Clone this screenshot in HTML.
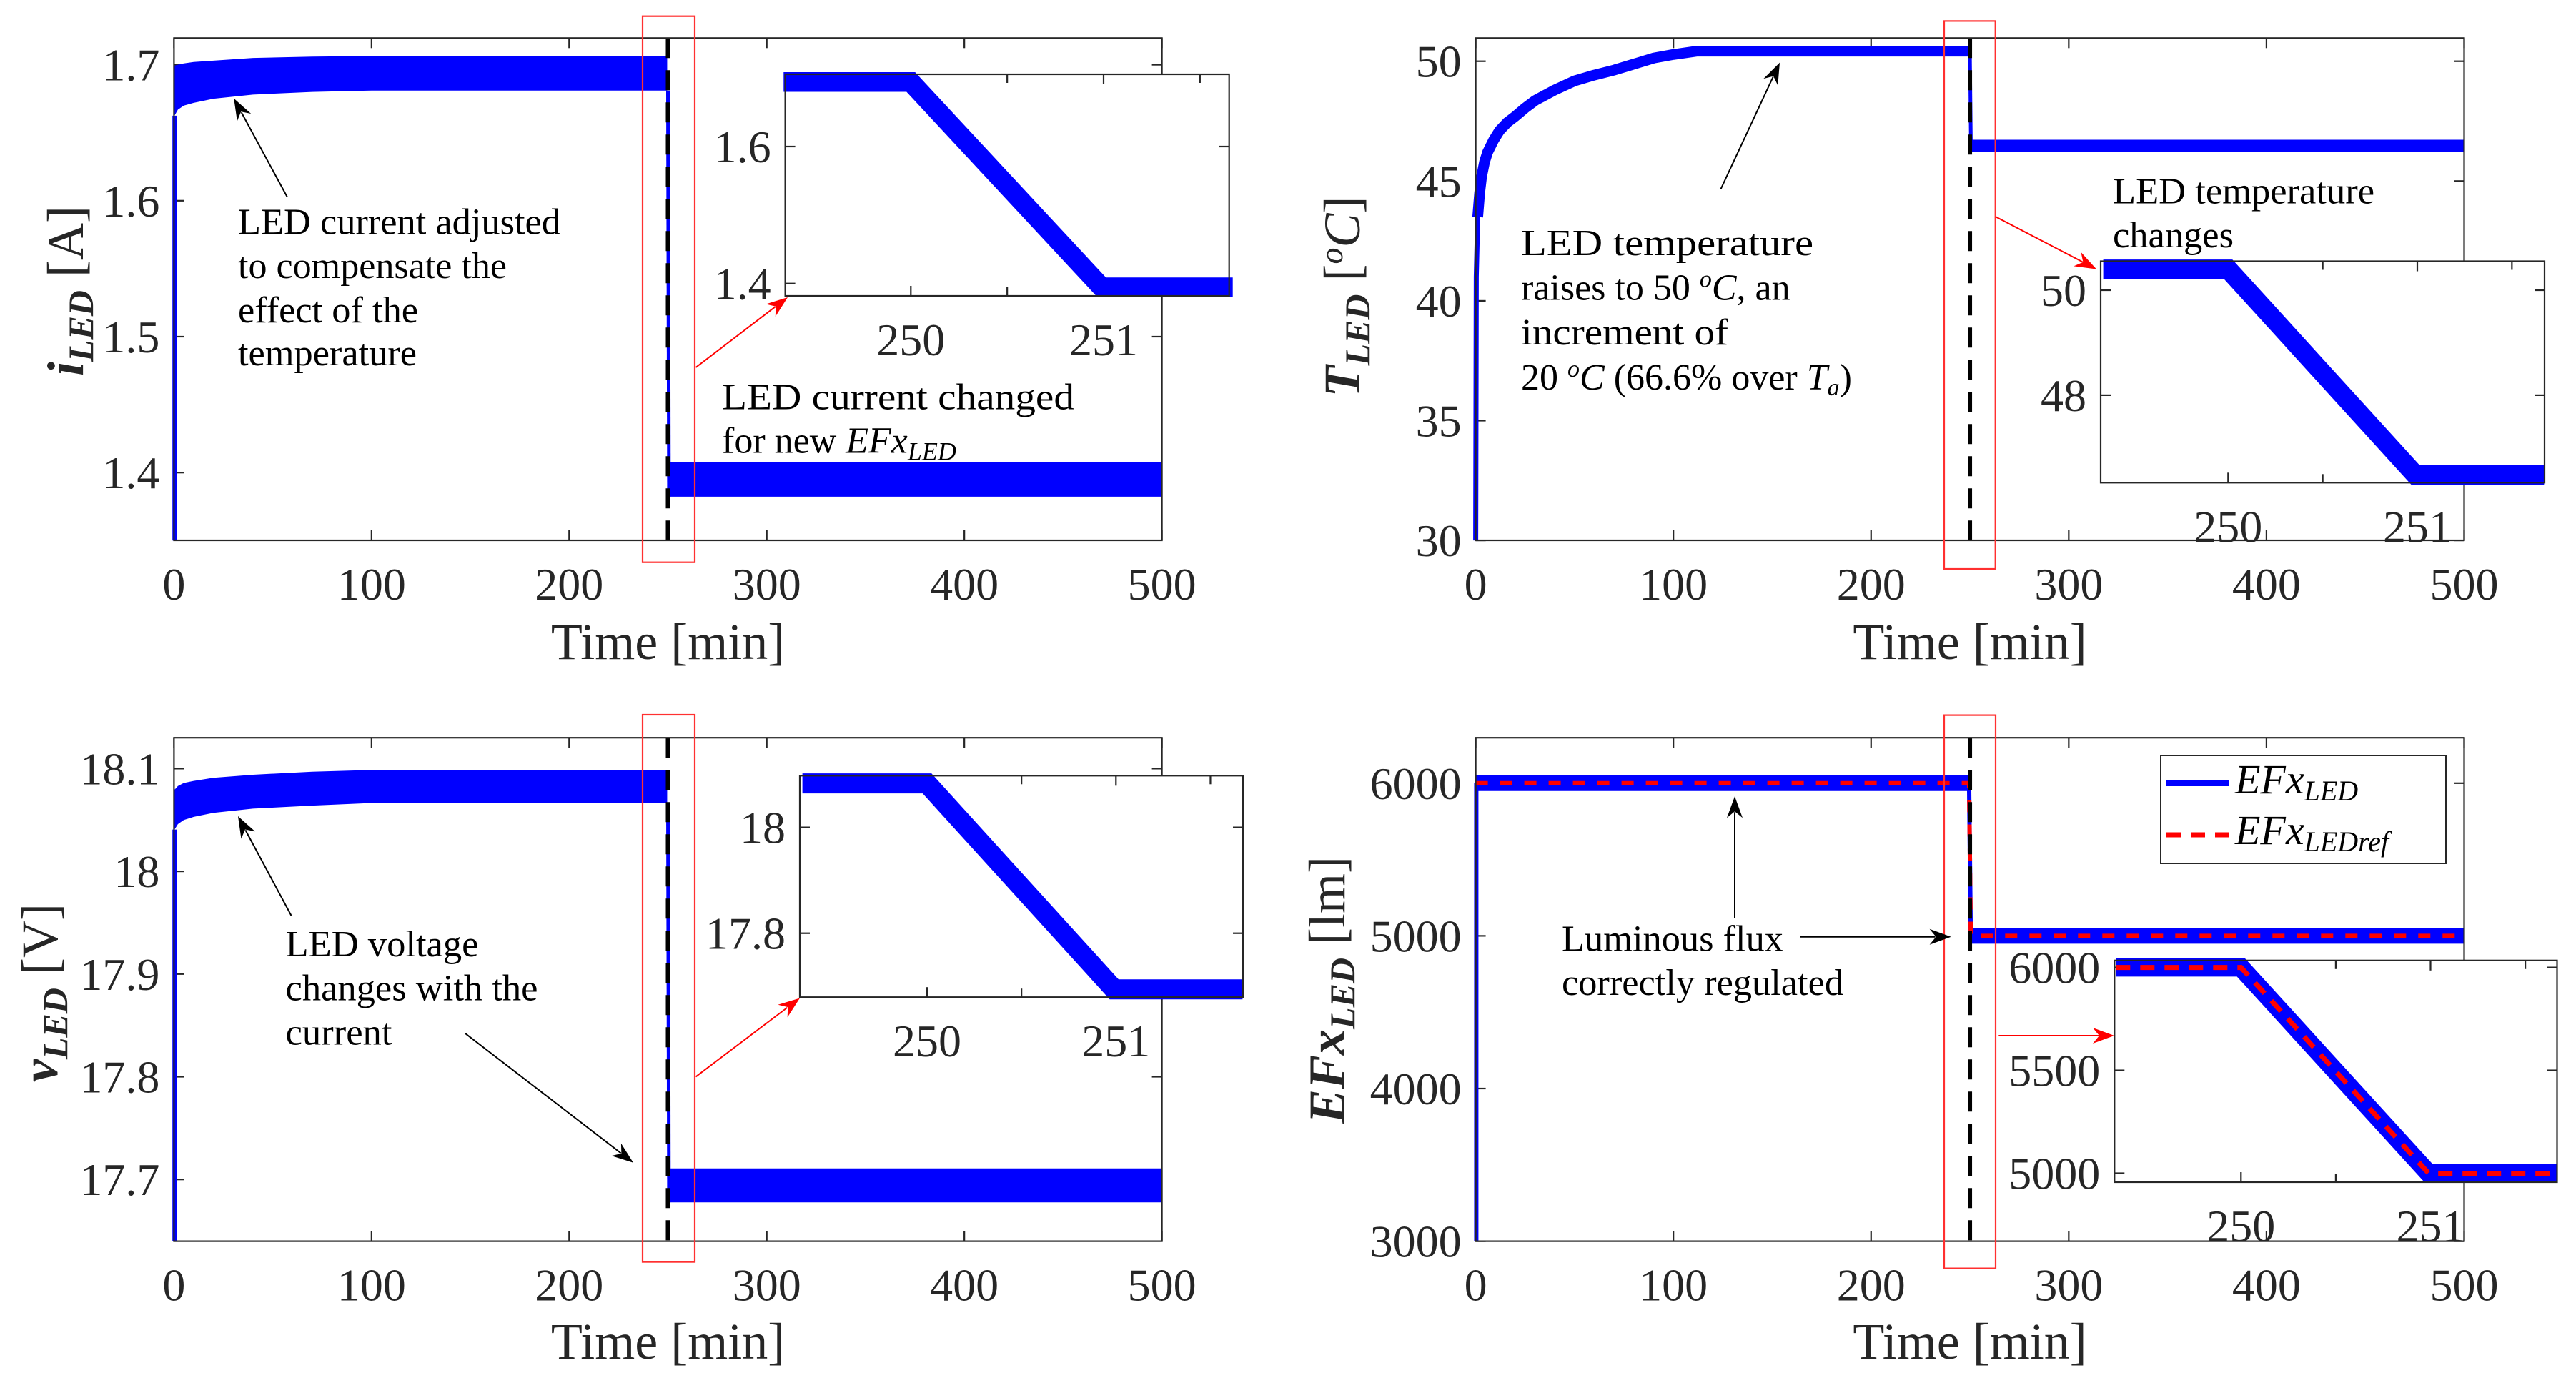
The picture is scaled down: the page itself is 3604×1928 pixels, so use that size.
<!DOCTYPE html>
<html><head><meta charset="utf-8"><title>LED regulation results</title>
<style>
html,body{margin:0;padding:0;background:#fff;}
svg{display:block;}
svg text{font-family:"Liberation Serif","Times New Roman",serif;}
</style></head>
<body>
<svg id="chart" xmlns="http://www.w3.org/2000/svg" width="3604" height="1928" viewBox="0 0 3604 1928" font-family="Liberation Serif, Times New Roman, serif">
<rect x="0" y="0" width="3604" height="1928" fill="#fff"/>
<g id="layer-main" font-family="Liberation Serif, serif"></g>
<g id="layer-annot" fill="#000" font-size="52" font-family="Liberation Serif, serif">
  <text x="333" y="327.6" textLength="451" lengthAdjust="spacingAndGlyphs">LED current adjusted</text>
  <text x="333" y="388.8" textLength="376" lengthAdjust="spacingAndGlyphs">to compensate the</text>
  <text x="333" y="451" textLength="252" lengthAdjust="spacingAndGlyphs">effect of the</text>
  <text x="333" y="511" textLength="250" lengthAdjust="spacingAndGlyphs">temperature</text>
  <text x="1010" y="572.5" textLength="493" lengthAdjust="spacingAndGlyphs">LED current changed</text>
  <text x="1010" y="633.7">for new <tspan font-style="italic">EFx</tspan><tspan font-style="italic" font-size="36" dy="10">LED</tspan></text>
  <text x="2128" y="357" textLength="409" lengthAdjust="spacingAndGlyphs">LED temperature</text>
  <text x="2128" y="419.4">raises to 50 <tspan font-style="italic" font-size="34" dy="-18">o</tspan><tspan font-style="italic" dy="18">C</tspan>, an</text>
  <text x="2128" y="481.9" textLength="290" lengthAdjust="spacingAndGlyphs">increment of</text>
  <text x="2128" y="545">20 <tspan font-style="italic" font-size="34" dy="-18">o</tspan><tspan font-style="italic" dy="18">C</tspan> (66.6% over <tspan font-style="italic">T</tspan><tspan font-style="italic" font-size="34" dy="8">a</tspan><tspan dy="-8">)</tspan></text>
  <text x="2956" y="284.7" textLength="366" lengthAdjust="spacingAndGlyphs">LED temperature</text>
  <text x="2956" y="346" textLength="169" lengthAdjust="spacingAndGlyphs">changes</text>
  <text x="399.5" y="1337.8" textLength="270" lengthAdjust="spacingAndGlyphs">LED voltage</text>
  <text x="399.5" y="1399.6" textLength="353" lengthAdjust="spacingAndGlyphs">changes with the</text>
  <text x="399.5" y="1461.3" textLength="149" lengthAdjust="spacingAndGlyphs">current</text>
  <text x="2185" y="1330.4" textLength="310" lengthAdjust="spacingAndGlyphs">Luminous flux</text>
  <text x="2185" y="1392" textLength="394" lengthAdjust="spacingAndGlyphs">correctly regulated</text>
</g>
<g id="layer-titles" fill="#262626" font-size="72" font-family="Liberation Serif, serif">
  <text transform="translate(116,407) rotate(-90)" text-anchor="middle"><tspan font-style="italic" font-weight="bold">i</tspan><tspan font-style="italic" font-weight="bold" font-size="50" dy="14">LED</tspan><tspan dy="-14"> [A]</tspan></text>
  <text transform="translate(1902,415) rotate(-90)" text-anchor="middle"><tspan font-style="italic" font-weight="bold">T</tspan><tspan font-style="italic" font-weight="bold" font-size="50" dy="14">LED</tspan><tspan dy="-14"> [</tspan><tspan font-style="italic" font-size="46" dy="-24">o</tspan><tspan font-style="italic" dy="24">C</tspan><tspan>]</tspan></text>
  <text transform="translate(80,1389) rotate(-90)" text-anchor="middle"><tspan font-style="italic" font-weight="bold">v</tspan><tspan font-style="italic" font-weight="bold" font-size="50" dy="14">LED</tspan><tspan dy="-14"> [V]</tspan></text>
  <text transform="translate(1881,1385) rotate(-90)" text-anchor="middle"><tspan font-style="italic" font-weight="bold">EFx</tspan><tspan font-style="italic" font-weight="bold" font-size="50" dy="14">LED</tspan><tspan dy="-14"> [lm]</tspan></text>
  <text x="934.5" y="922" text-anchor="middle">Time [min]</text>
  <text x="2756" y="922" text-anchor="middle">Time [min]</text>
  <text x="934.5" y="1901" text-anchor="middle">Time [min]</text>
  <text x="2756" y="1901" text-anchor="middle">Time [min]</text>
</g>
<g id="layer-inset" font-family="Liberation Serif, serif"></g>
<g id="layer-legend" font-family="Liberation Serif, serif">
  <rect x="3023" y="1057" width="399" height="151" fill="#fff" stroke="#262626" stroke-width="2"/>
  <line x1="3031" y1="1096" x2="3119" y2="1096" stroke="#0000ff" stroke-width="8"/>
  <text x="3127" y="1110" font-size="58" font-style="italic" fill="#000">EFx<tspan font-size="40" dy="10">LED</tspan></text>
  <line x1="3031" y1="1168" x2="3119" y2="1168" stroke="#ff0000" stroke-width="7" stroke-dasharray="20 14"/>
  <text x="3127" y="1181" font-size="58" font-style="italic" fill="#000">EFx<tspan font-size="40" dy="10">LEDref</tspan></text>
</g>
<g id="layer-arrows"></g>
</svg>
<script>
// ---------- data ----------
const xTicks=[0,100,200,300,400,500];
const insetXTicks=[250,251];
const insetMinorTicks=[250.5,251.5];
const bandT=[0.3,2,5,10,20,40,70,100,150,200,249.6];
const insetT=[249.34,250,250.99,251.67];
// current
const iTicks=[1.4,1.5,1.6,1.7];
const iUpper=[1.6994,1.700,1.701,1.702,1.703,1.705,1.706,1.7064,1.7064,1.7064,1.7064];
const iLower=[1.6625,1.667,1.670,1.672,1.675,1.678,1.680,1.681,1.681,1.681,1.681];
const iAfter=[1.3823,1.408];
const iStart=1.35;
const iInsetTicks=[1.4,1.6];
const iInset=[1.6941,1.6941,1.3945,1.3945];
// temperature
const tempTicks=[30,35,40,45,50];
const tempT=[0,0.3,1,2,3,4.5,6,9,12,16,20,25,30,40,50,60,70,80,90,100,112,249.6];
const tempV=[30,41,43.5,44.5,45.2,45.8,46.2,46.7,47.1,47.45,47.7,48.05,48.36,48.8,49.18,49.42,49.63,49.88,50.13,50.28,50.42,50.42];
const tempAfter=[46.47];
const tempInsetTicks=[48,50];
const tempInset=[50.40,50.40,46.48,46.48];
// voltage
const vTicks=[17.7,17.8,17.9,18,18.1];
const vUpper=[18.0794,18.083,18.086,18.088,18.091,18.094,18.097,18.0987,18.0987,18.0987,18.0987];
const vLower=[18.0407,18.046,18.050,18.053,18.057,18.061,18.064,18.0665,18.0665,18.0665,18.0665];
const vAfter=[17.6777,17.7107];
const vStart=17.64;
const vInsetTicks=[17.8,18];
const vInset=[18.083,18.083,17.694,17.694];
// luminous flux
const efTicks=[3000,4000,5000,6000];
const efT=[0,249.6,250.4,500];
const efV=[6000,6000,5000,5000];
const efRefV=[6000,6000,5000,5000];
const efStart=3000;
const efInsetTicks=[5000,5500,6000];
const efInset=[6000,6000,5000,5000];
const efRefInset=[6000,6000,5000,5000];
const eventT=250;

// ---------- helpers ----------
const NS='http://www.w3.org/2000/svg';
const L_MAIN=document.getElementById('layer-main');
const L_INSET=document.getElementById('layer-inset');
const L_ARROW=document.getElementById('layer-arrows');
function mk(tag,attrs,parent){const e=document.createElementNS(NS,tag);for(const k in attrs)e.setAttribute(k,attrs[k]);parent.appendChild(e);return e;}
function lin(d0,d1,r0,r1){return v=>r0+(v-d0)*(r1-r0)/(d1-d0);}
const AX='#262626';

function panel(g,P,yTicks,name,xt,minor,fillBg){
  const [x0,y0,x1,y1]=P.box;
  if(fillBg){
    const bg=mk('rect',{x:x0,y:y0,width:x1-x0,height:y1-y0,fill:'#fff'},g);
    
    
  }
  const tk=mk('g',{stroke:AX,'stroke-width':2.2},g);
  
  
  const labs=mk('g',{fill:AX,'font-size':64,'font-family':'Liberation Serif, serif'},g);
  
  
  xt.forEach(v=>{
    const x=P.x(v);
    mk('line',{x1:x,y1:y1,x2:x,y2:y1-14},tk);
    mk('line',{x1:x,y1:y0,x2:x,y2:y0+14},tk);
    const t=mk('text',{x:x,y:y1+83,'text-anchor':'middle'},labs);
    t.textContent=String(v);
    
    
  });
  minor.forEach(v=>{
    const x=P.x(v);
    mk('line',{x1:x,y1:y1,x2:x,y2:y1-12},tk);
    mk('line',{x1:x,y1:y0,x2:x,y2:y0+12},tk);
  });
  yTicks.forEach(v=>{
    const y=P.y(v);
    mk('line',{x1:x0,y1:y,x2:x0+14,y2:y},tk);
    mk('line',{x1:x1,y1:y,x2:x1-14,y2:y},tk);
    const t=mk('text',{x:x0-20,y:y+22,'text-anchor':'end'},labs);
    t.textContent=String(v);
    
    
  });
  return ()=>{
    const fr=mk('rect',{x:x0,y:y0,width:x1-x0,height:y1-y0,fill:'none',stroke:AX,'stroke-width':2.2},g);
    
    
  };
}
function pathFrom(P,ts,vs){return ts.map((t,i)=>(i?'L':'M')+P.x(t).toFixed(1)+' '+P.y(vs[i]).toFixed(1)).join(' ');}
function bandPath(P,ts,up,lo){
  let d=ts.map((t,i)=>(i?'L':'M')+P.x(t).toFixed(1)+' '+P.y(up[i]).toFixed(1)).join(' ');
  for(let i=ts.length-1;i>=0;i--)d+=' L'+P.x(ts[i]).toFixed(1)+' '+P.y(lo[i]).toFixed(1);
  return d+' Z';
}
function arrow(x1,y1,x2,y2,color,name){
  const g=mk('g',{},L_ARROW);
  
  
  const a=Math.atan2(y2-y1,x2-x1),len=30,w=11;
  const bx=x2-len*Math.cos(a),by=y2-len*Math.sin(a);
  mk('line',{x1:x1,y1:y1,x2:bx+8*Math.cos(a),y2:by+8*Math.sin(a),stroke:color,'stroke-width':2},g);
  const px=-Math.sin(a),py=Math.cos(a);
  const nx=x2-len*0.7*Math.cos(a),ny=y2-len*0.7*Math.sin(a);
  mk('path',{d:`M${x2} ${y2} L${bx+px*w} ${by+py*w} L${nx} ${ny} L${bx-px*w} ${by-py*w} Z`,fill:color},g);
}
function eventLine(g,P,name){
  const l=mk('line',{x1:P.x(eventT),y1:P.box[1],x2:P.x(eventT),y2:P.box[3],stroke:'#000','stroke-width':6,'stroke-dasharray':'28 17'},g);
  
  
}
function zoomRect(g,x,y,w,h,name){
  const r=mk('rect',{x:x,y:y,width:w,height:h,fill:'none',stroke:'#ff3030','stroke-width':2.2},g);
  
  
}

// ---------- panels ----------
const P_TL={x:lin(0,500,243.4,1625.6),y:lin(1.4,1.7,661.2,90.6),box:[243.4,53.3,1625.6,756]};
const P_TR={x:lin(0,500,2064.6,3447.5),y:lin(30,50,756.1,85.7),box:[2064.6,53.3,3447.5,756]};
const P_BL={x:lin(0,500,243.4,1625.6),y:lin(17.7,18.1,1650.2,1075.4),box:[243.4,1032.2,1625.6,1736.6]};
const P_BR={x:lin(0,500,2064.6,3447.5),y:lin(3000,6000,1736.6,1095.8),box:[2064.6,1032.2,3447.5,1736.6]};
const I_TL={x:lin(250,251,1274.3,1544),y:lin(1.4,1.6,396.7,205),box:[1098.6,104,1719.7,414]};
const I_TR={x:lin(250,251,3117.3,3382),y:lin(48,50,552.9,406),box:[2939,365.5,3560,675.3]};
const I_BL={x:lin(250,251,1297,1561.3),y:lin(17.8,18,1305.7,1157.6),box:[1119,1085.3,1739,1395.2]};
const I_BR={x:lin(250,251,3135.3,3400.5),y:lin(5000,6000,1641.5,1353.6),box:[2958.3,1343.8,3577.5,1654]};
const BLUE='#0000ff';

// Top-left: current
(function(){
  const g=mk('g',{},L_MAIN);
  
  
  const frame=panel(g,P_TL,iTicks,'current-plot',xTicks,[],false);
  const s=mk('line',{x1:P_TL.x(0.3),y1:P_TL.y(iStart),x2:P_TL.x(0.3),y2:P_TL.y(iLower[0]),stroke:BLUE,'stroke-width':6},g);
  
  
  const b=mk('path',{d:bandPath(P_TL,bandT,iUpper,iLower),fill:BLUE},g);
  
  
  const dr=mk('line',{x1:P_TL.x(250),y1:P_TL.y(iLower[iLower.length-1]),x2:P_TL.x(250.5),y2:P_TL.y(iAfter[0]),stroke:BLUE,'stroke-width':5},g);
  
  
  const a=mk('path',{d:bandPath(P_TL,[250.5,500],[iAfter[1],iAfter[1]],[iAfter[0],iAfter[0]]),fill:BLUE},g);
  
  
  eventLine(g,P_TL,'current-event-line');
  frame();
  zoomRect(g,899,22.7,73,764,'current-zoom-region');
  const gi=mk('g',{},L_INSET);
  
  
  const f2=panel(gi,I_TL,iInsetTicks,'current-inset',insetXTicks,insetMinorTicks,true);
  const ln=mk('path',{d:pathFrom(I_TL,insetT,iInset),fill:'none',stroke:BLUE,'stroke-width':27.5},gi);
  
  
  f2();
})();

// Top-right: temperature
(function(){
  const g=mk('g',{},L_MAIN);
  
  
  const frame=panel(g,P_TR,tempTicks,'temperature-plot',xTicks,[],false);
  const s=mk('path',{d:pathFrom(P_TR,tempT.slice(0,3),tempV.slice(0,3)),fill:'none',stroke:BLUE,'stroke-width':7},g);
  
  
  const c=mk('path',{d:pathFrom(P_TR,tempT.slice(2),tempV.slice(2)),fill:'none',stroke:BLUE,'stroke-width':15,'stroke-linejoin':'round'},g);
  
  
  const dr=mk('line',{x1:P_TR.x(250),y1:P_TR.y(tempV[tempV.length-1]),x2:P_TR.x(250.5),y2:P_TR.y(tempAfter[0]),stroke:BLUE,'stroke-width':5},g);
  
  
  const a=mk('line',{x1:P_TR.x(250.5),y1:P_TR.y(tempAfter[0]),x2:P_TR.x(500),y2:P_TR.y(tempAfter[0]),stroke:BLUE,'stroke-width':17},g);
  
  
  eventLine(g,P_TR,'temperature-event-line');
  frame();
  zoomRect(g,2720,29.4,71.7,766.6,'temperature-zoom-region');
  const gi=mk('g',{},L_INSET);
  
  
  const f2=panel(gi,I_TR,tempInsetTicks,'temperature-inset',insetXTicks,insetMinorTicks,true);
  const ln=mk('path',{d:pathFrom(I_TR,insetT,tempInset),fill:'none',stroke:BLUE,'stroke-width':27},gi);
  
  
  f2();
})();

// Bottom-left: voltage
(function(){
  const g=mk('g',{},L_MAIN);
  
  
  const frame=panel(g,P_BL,vTicks,'voltage-plot',xTicks,[],false);
  const s=mk('line',{x1:P_BL.x(0.3),y1:P_BL.y(vStart),x2:P_BL.x(0.3),y2:P_BL.y(vLower[0]),stroke:BLUE,'stroke-width':6},g);
  
  
  const b=mk('path',{d:bandPath(P_BL,bandT,vUpper,vLower),fill:BLUE},g);
  
  
  const dr=mk('line',{x1:P_BL.x(250),y1:P_BL.y(vLower[vLower.length-1]),x2:P_BL.x(250.5),y2:P_BL.y(vAfter[0]),stroke:BLUE,'stroke-width':5},g);
  
  
  const a=mk('path',{d:bandPath(P_BL,[250.5,500],[vAfter[1],vAfter[1]],[vAfter[0],vAfter[0]]),fill:BLUE},g);
  
  
  eventLine(g,P_BL,'voltage-event-line');
  frame();
  zoomRect(g,899,1000,73,765.6,'voltage-zoom-region');
  const gi=mk('g',{},L_INSET);
  
  
  const f2=panel(gi,I_BL,vInsetTicks,'voltage-inset',insetXTicks,insetMinorTicks,true);
  const ln=mk('path',{d:pathFrom(I_BL,insetT,vInset),fill:'none',stroke:BLUE,'stroke-width':28},gi);
  
  
  f2();
})();

// Bottom-right: luminous flux
(function(){
  const g=mk('g',{},L_MAIN);
  
  
  const frame=panel(g,P_BR,efTicks,'flux-plot',xTicks,[],false);
  const s=mk('line',{x1:P_BR.x(0.3),y1:P_BR.y(efStart),x2:P_BR.x(0.3),y2:P_BR.y(efV[0]),stroke:BLUE,'stroke-width':6},g);
  
  
  const b=mk('path',{d:pathFrom(P_BR,[efT[0],efT[1]],[efV[0],efV[1]]),fill:'none',stroke:BLUE,'stroke-width':22},g);
  
  
  const st=mk('path',{d:pathFrom(P_BR,[efT[1],efT[2]],[efV[1],efV[2]]),fill:'none',stroke:BLUE,'stroke-width':6},g);
  
  
  const a=mk('path',{d:pathFrom(P_BR,[efT[2],efT[3]],[efV[2],efV[3]]),fill:'none',stroke:BLUE,'stroke-width':22},g);
  
  
  const r=mk('path',{d:pathFrom(P_BR,efT,efRefV),fill:'none',stroke:'#ff0000','stroke-width':6,'stroke-dasharray':'17 17'},g);
  
  
  eventLine(g,P_BR,'flux-event-line');
  frame();
  zoomRect(g,2720,1000.6,72,774,'flux-zoom-region');
  const gi=mk('g',{},L_INSET);
  
  
  const f2=panel(gi,I_BR,efInsetTicks,'flux-inset',insetXTicks,insetMinorTicks,true);
  const ln=mk('path',{d:pathFrom(I_BR,insetT,efInset),fill:'none',stroke:BLUE,'stroke-width':25.5},gi);
  
  
  const rf=mk('path',{d:pathFrom(I_BR,insetT,efRefInset),fill:'none',stroke:'#ff0000','stroke-width':7,'stroke-dasharray':'20 14'},gi);
  
  
  f2();
})();

// ---------- arrows ----------
arrow(401.8,275.5,327.2,137.8,'#000','arrow-current-note');
arrow(973.5,514,1102,416,'#ff0000','arrow-current-zoom');
arrow(2407.5,264.5,2490,87.6,'#000','arrow-temp-note');
arrow(2791.7,303,2933,376.5,'#ff0000','arrow-temp-zoom');
arrow(407.5,1281,333,1142,'#000','arrow-voltage-note');
arrow(651,1445.9,886,1626.7,'#000','arrow-voltage-step');
arrow(973.5,1506.4,1119,1396.5,'#ff0000','arrow-voltage-zoom');
arrow(2427,1285,2427,1114.3,'#000','arrow-flux-up');
arrow(2519,1310.7,2729.6,1310.7,'#000','arrow-flux-step');
arrow(2796.3,1449,2958,1449,'#ff0000','arrow-flux-zoom');
</script>
</body></html>
